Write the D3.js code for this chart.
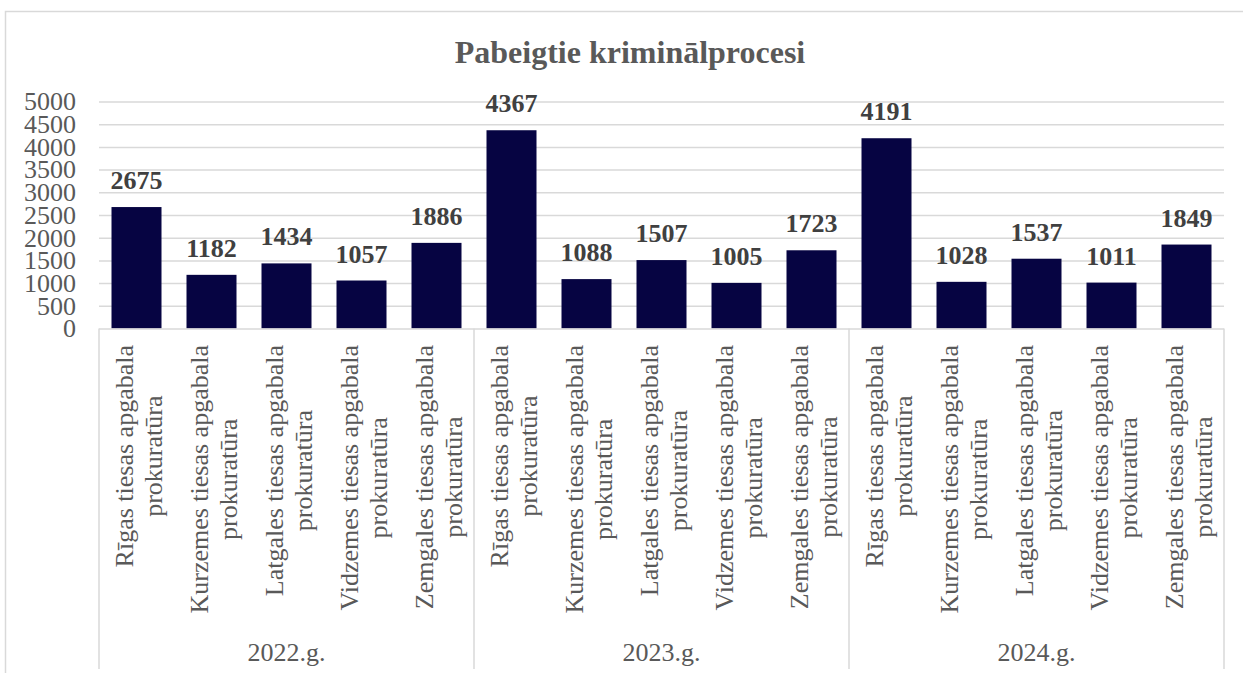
<!DOCTYPE html>
<html>
<head>
<meta charset="utf-8">
<script src="https://cdn.jsdelivr.net/npm/d3@7"></script>
<style>
  body { margin: 0; background: #fff; }
</style>
</head>
<body>
<svg id="chart" width="1243" height="673"></svg>
<script>
var chartTitle = "Pabeigtie kriminālprocesi";
var years = ["2022.g.", "2023.g.", "2024.g."];
var offices = [
  ["Rīgas tiesas apgabala", "prokuratūra"],
  ["Kurzemes tiesas apgabala", "prokuratūra"],
  ["Latgales tiesas apgabala", "prokuratūra"],
  ["Vidzemes tiesas apgabala", "prokuratūra"],
  ["Zemgales tiesas apgabala", "prokuratūra"]
];
var values2022 = [2675, 1182, 1434, 1057, 1886];
var values2023 = [4367, 1088, 1507, 1005, 1723];
var values2024 = [4191, 1028, 1537, 1011, 1849];
var yTicks = [0, 500, 1000, 1500, 2000, 2500, 3000, 3500, 4000, 4500, 5000];

var seriesByYear = [values2022, values2023, values2024];
var serif = "Liberation Serif";

// flatten into one row per bar
var rows = [];
years.forEach(function (yr, gi) {
  offices.forEach(function (lines, oi) {
    rows.push({ key: yr + "|" + oi, year: yr, group: gi, lines: lines, value: seriesByYear[gi][oi] });
  });
});

var svg = d3.select("#chart");

var plot = { left: 99, right: 1224, top: 101.5, bottom: 328.5 };

var x = d3.scaleBand()
  .domain(rows.map(function (d) { return d.key; }))
  .range([plot.left, plot.right])
  .paddingInner(1 / 3)
  .paddingOuter(1 / 6);

var y = d3.scaleLinear()
  .domain([0, 5000])
  .range([plot.bottom, plot.top]);

// outer chart border (right and bottom run off the picture)
svg.append("rect")
  .attr("x", 5.5).attr("y", 11.5)
  .attr("width", 1260).attr("height", 700)
  .attr("fill", "none")
  .attr("stroke", "#d9d9d9")
  .attr("stroke-width", 1.5);

// title
svg.append("text")
  .attr("x", 630).attr("y", 62.5)
  .attr("text-anchor", "middle")
  .attr("font-size", 32)
  .attr("font-weight", "bold")
  .attr("fill", "#595959")
  .style("font-family", serif)
  .text(chartTitle);

// gridlines
var grid = svg.append("g")
  .attr("transform", "translate(" + plot.left + ",0)")
  .call(d3.axisLeft(y).tickValues(yTicks.slice(1)).tickSize(-(plot.right - plot.left)).tickFormat(""));
grid.select(".domain").remove();
grid.selectAll("line").attr("stroke", "#d9d9d9").attr("stroke-width", 1.5);

// y axis labels
var yAxisG = svg.append("g")
  .attr("transform", "translate(" + plot.left + ",0)")
  .call(d3.axisLeft(y).tickValues(yTicks).tickSize(0).tickPadding(23).tickFormat(d3.format("d")));
yAxisG.select(".domain").remove();
yAxisG.selectAll("text")
  .attr("font-size", 26)
  .attr("fill", "#595959")
  .style("font-family", serif);

// bars
svg.append("g").selectAll("rect")
  .data(rows)
  .join("rect")
  .attr("x", function (d) { return x(d.key); })
  .attr("width", x.bandwidth())
  .attr("y", function (d) { return y(d.value); })
  .attr("height", function (d) { return y(0) - y(d.value); })
  .attr("fill", "#060442");

// value labels
svg.append("g").selectAll("text")
  .data(rows)
  .join("text")
  .attr("x", function (d) { return x(d.key) + x.bandwidth() / 2; })
  .attr("y", function (d) { return y(d.value) - 18; })
  .attr("text-anchor", "middle")
  .attr("font-size", 26)
  .attr("font-weight", "bold")
  .attr("fill", "#404040")
  .style("font-family", serif)
  .text(function (d) { return d.value; });

// category axis line and group dividers
var step = x.step();
var groupSize = offices.length;
var axisBottom = 669;
svg.append("line")
  .attr("x1", plot.left).attr("x2", plot.right)
  .attr("y1", plot.bottom + 0.5).attr("y2", plot.bottom + 0.5)
  .attr("stroke", "#d9d9d9").attr("stroke-width", 1.5);

var dividers = d3.range(years.length + 1).map(function (i) { return plot.left + i * groupSize * step; });
svg.append("g").selectAll("line")
  .data(dividers)
  .join("line")
  .attr("x1", function (d) { return d; }).attr("x2", function (d) { return d; })
  .attr("y1", plot.bottom).attr("y2", axisBottom)
  .attr("stroke", "#d9d9d9").attr("stroke-width", 1.5);

// rotated category labels, two lines each, top end at a fixed line
var labelTop = 345;
var catG = svg.append("g");
rows.forEach(function (d) {
  var cx = x(d.key) + x.bandwidth() / 2;
  var t = catG.append("text")
    .attr("text-anchor", "middle")
    .attr("font-size", 26)
    .attr("fill", "#595959")
    .style("font-family", serif);
  t.append("tspan").attr("x", 0).attr("y", -4).text(d.lines[0]);
  t.append("tspan").attr("x", 0).attr("y", 25).text(d.lines[1]);
  var len = t.select("tspan").node().getComputedTextLength();
  t.attr("transform", "translate(" + cx + "," + (labelTop + len / 2) + ") rotate(-90)");
});

// year labels
svg.append("g").selectAll("text")
  .data(years)
  .join("text")
  .attr("x", function (d, i) { return (dividers[i] + dividers[i + 1]) / 2; })
  .attr("y", 661)
  .attr("text-anchor", "middle")
  .attr("font-size", 26)
  .attr("fill", "#595959")
  .style("font-family", serif)
  .text(function (d) { return d; });
</script>
</body>
</html>
